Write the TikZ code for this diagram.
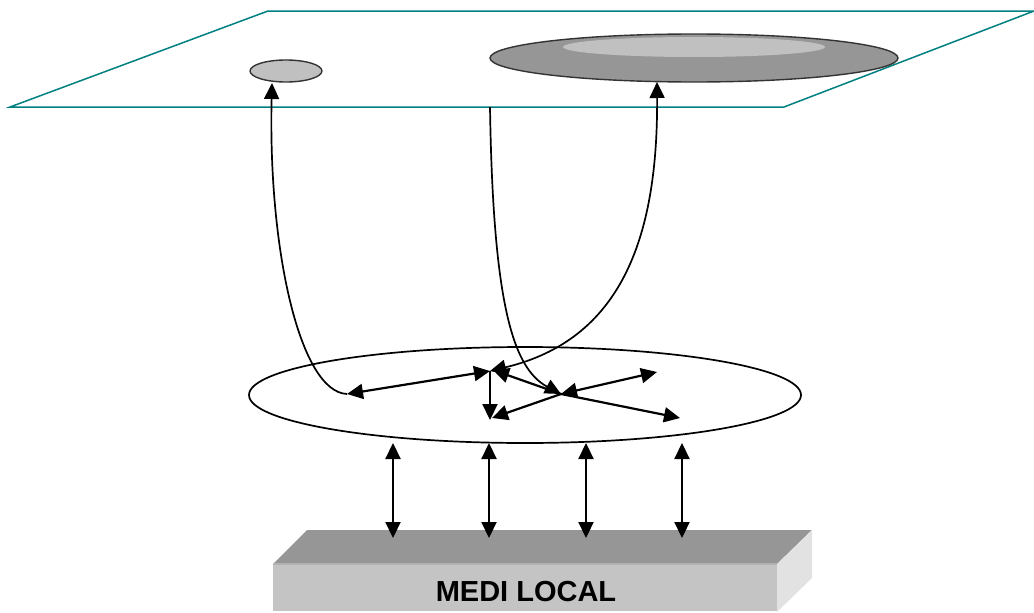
\documentclass[tikz,border=0pt]{standalone}
\usepackage{fontspec}
\setmainfont{Liberation Sans}
\usetikzlibrary{arrows.meta,shapes.geometric}
\definecolor{planeteal}{RGB}{0,128,128}
\definecolor{diskdark}{RGB}{150,150,150}
\definecolor{disklight}{RGB}{192,192,192}
\definecolor{boxtop}{RGB}{150,150,150}
\definecolor{boxfront}{RGB}{196,196,196}
\definecolor{boxside}{RGB}{226,226,226}
\definecolor{boxedge}{RGB}{178,178,178}
\begin{document}
\begin{tikzpicture}[x=1pt,y=-1pt,
  fwd/.style={-{Triangle[length=16pt,width=15pt]}},
  both/.style={{Triangle[length=16pt,width=15pt]}-{Triangle[length=16pt,width=15pt]}},
  plane/.style={draw=planeteal,line width=1.5pt,line join=miter},
  disk/.style={ellipse,inner sep=0pt,draw=black!80,line width=1.4pt},
  link/.style={line width=1.7pt},
  flow/.style={line width=2.2pt},
  label/.style={font=\bfseries\fontsize{29}{32}\selectfont,inner sep=0pt}]
\useasboundingbox (0,0) rectangle (1034,613);

% upper plane
\draw[plane] (10,107) -- (268,11) -- (1034,11) -- (784,107) -- cycle;

% shapes lying on the plane
\node[disk,fill=disklight,minimum width=72pt,minimum height=22pt] (small) at (286,71) {};
\node[disk,fill=diskdark,minimum width=408pt,minimum height=48pt] (big) at (694,58) {};
\node[ellipse,inner sep=0pt,fill=disklight,minimum width=262pt,minimum height=20pt] (bigtop) at (694,47) {};

% middle ellipse
\node[ellipse,inner sep=0pt,draw,line width=1.7pt,minimum width=552pt,minimum height=96pt] (mid) at (525,395) {};

% points inside the middle ellipse
\coordinate (p) at (347,394);
\coordinate (a) at (490,371);
\coordinate (h) at (561,394);
\coordinate (ur) at (657,372);
\coordinate (lr) at (680,418);
\coordinate (dl) at (492,418);
\coordinate (ad) at (490,420);
\coordinate (sm) at (272,83);
\coordinate (pl) at (490,107);
\coordinate (bg) at (657,82);

% curved links to the plane
\draw[link,fwd] (p) .. controls (300,392) and (268,250) .. (sm);
\draw[link,fwd] (pl) .. controls (493,300) and (512,368) .. (h);
\draw[link,both] (a) .. controls (620,340) and (658,240) .. (bg);

% links inside the middle ellipse
\draw[flow,both] (p) -- (a);
\draw[flow,fwd] (a) -- (ad);
\draw[flow,fwd] (h) -- ([xshift=3pt,yshift=1pt]a);
\draw[flow,both] (h) -- (ur);
\draw[flow,fwd] (h) -- (lr);
\draw[flow,fwd] (h) -- (dl);

% local medium block
\fill[boxtop] (307,530) -- (812,530) -- (777,564) -- (273,564) -- cycle;
\fill[boxfront] (273,564) rectangle (777,611);
\fill[boxside] (777,564) -- (812,530) -- (812,578) -- (777,612) -- cycle;
\draw[boxedge,line width=2pt] (273,564) -- (777,564);
\node[label] (medi) at (526,592) {MEDI LOCAL};

% vertical links between the ellipse and the block
\foreach \x [count=\i] in {393,489,586,682}{
  \coordinate (t\i) at (\x,443);
  \coordinate (b\i) at (\x,538);
  \draw[flow,both] (t\i) -- (b\i);
}
\end{tikzpicture}
\end{document}
